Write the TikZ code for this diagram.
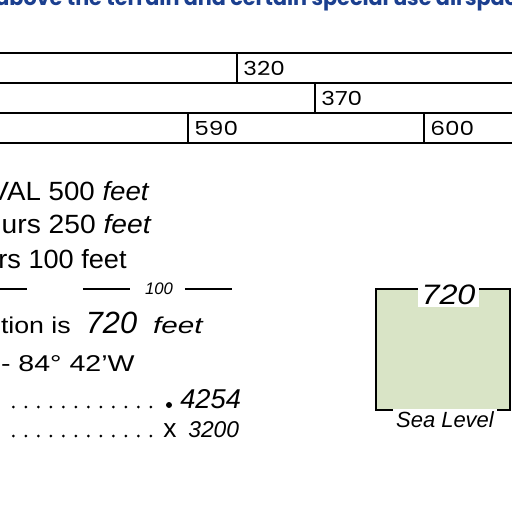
\documentclass[tikz,border=0pt]{standalone}
\usepackage{fontspec}
\setmainfont{Liberation Sans}
\newfontfamily\tablefont{Poppins}
\usetikzlibrary{positioning}
\definecolor{headblue}{HTML}{1B3F8F}
\definecolor{boxgreen}{HTML}{D9E4C6}
\newcommand{\xwide}[2]{\scalebox{#1}[1]{#2}}

\begin{document}
\begin{tikzpicture}[x=0.02cm, y=-0.02cm,
  rule/.style={line width=0.85pt},
  tick/.style={line width=0.75pt},
  cell/.style={anchor=base west, inner sep=0pt, font=\tablefont\fontsize{11}{13}\selectfont},
  note/.style={anchor=base east, inner sep=0pt, font=\fontsize{15}{18}\selectfont},
  fig/.style={anchor=base west, inner sep=0pt, font=\itshape\fontsize{15.5}{18}\selectfont}
]
\fill[white] (0,0) rectangle (512,512);
\clip (0,0) rectangle (512,512);

\node[anchor=base west, inner sep=0pt, text=headblue, font=\tablefont\bfseries\fontsize{11.8}{14}\selectfont] (head) at (-5,5) {above the terrain and certain special use airspace};

\foreach \y in {53,83,113,143}
  \draw[rule] (0,\y) -- (512,\y);
\draw[rule] (237,53) -- (237,83);
\draw[rule] (315,83) -- (315,113);
\draw[rule] (188,113) -- (188,143);
\draw[rule] (424,113) -- (424,143);
\node[cell] (c320) at (243,75) {\xwide{1.2}{320}};
\node[cell] (c370) at (321,105) {\xwide{1.2}{370}};
\node[cell] (c590) at (194,135) {\xwide{1.2}{590}};
\node[cell] (c600) at (430,135) {\xwide{1.2}{600}};

\node[note] (vfr) at (150,200) {\xwide{1.05}{VAL 500 \textit{feet}}};
\node[note] (cont) at (152,233) {\xwide{1.07}{urs 250 \textit{feet}}};
\node[note] (hund) at (127,268) {\xwide{1.03}{rs 100 feet}};

\draw[tick] (0,289) -- (27,289);
\draw[tick] (83,289) -- (130,289);
\draw[tick] (185,289) -- (232,289);
\node[inner sep=0pt, font=\itshape\fontsize{9.5}{11}\selectfont] (ci) at (159,289) {100};

\node[note, font=\fontsize{13}{15}\selectfont] (elev) at (203,333) {\xwide{1.17}{tion is}\hspace{0.3cm}{\itshape\fontsize{17.5}{20}\selectfont 720}\hspace{0.32cm}\xwide{1.3}{\itshape feet}};
\node[note, font=\fontsize{13}{15}\selectfont] (lon) at (135,371) {\xwide{1.25}{- 84° 42’W}};

\foreach \i in {0,...,11} {
  \fill (13.3+12.5*\i,407) circle (1.5);
  \fill (13.3+12.5*\i,436) circle (1.5);
}
\fill (169,405) circle (3);
\node[fig] (peak) at (180,408) {4254};
\node[anchor=base west, inner sep=0pt, font=\fontsize{15}{18}\selectfont] (mark) at (163,437) {x};
\node[fig, font=\itshape\fontsize{13}{15}\selectfont] (spot) at (188,437) {3200};

\fill[boxgreen] (376,289) rectangle (510,410);
\draw[rule] (376,289) rectangle (510,410);
\node[fill=white, inner sep=0pt, minimum width=1.22cm, minimum height=0.48cm] (tint) at (448.5,295) {\itshape\fontsize{16}{18}\selectfont\xwide{1.15}{720}};
\node[fill=white, anchor=north, inner xsep=2pt, inner ysep=1pt] (sea) at (445,409) {\itshape\fontsize{12.5}{15}\selectfont Sea Level};
\end{tikzpicture}
\end{document}
